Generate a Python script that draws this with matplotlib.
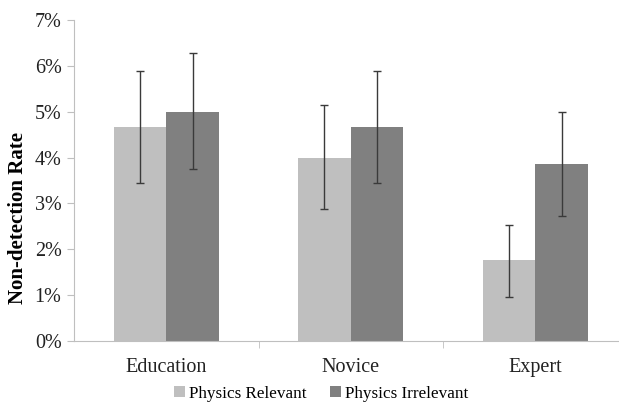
import matplotlib.pyplot as plt
import numpy as np
from matplotlib.ticker import PercentFormatter

groups = ['Education', 'Novice', 'Expert']
relevant = [4.67, 4.0, 1.76]
irrelevant = [5.0, 4.67, 3.85]
# error bar ends (upper, lower)
rel_hi = [5.89, 5.14, 2.53]
rel_lo = [3.45, 2.88, 0.97]
irr_hi = [6.27, 5.89, 5.0]
irr_lo = [3.74, 3.45, 2.73]

plt.rcParams['font.family'] = ['Liberation Serif', 'DejaVu Serif']

fig = plt.figure(figsize=(6.19, 4.07), dpi=100)
ax = fig.add_axes([74/619, 66/407, 553.5/619, 321/407])

x = np.arange(len(groups))
w = 0.285
rel_err = [np.subtract(relevant, rel_lo), np.subtract(rel_hi, relevant)]
irr_err = [np.subtract(irrelevant, irr_lo), np.subtract(irr_hi, irrelevant)]

ax.bar(x - w/2, relevant, w, color='#bfbfbf', label='Physics Relevant')
ax.bar(x + w/2, irrelevant, w, color='#808080', label='Physics Irrelevant')
ax.errorbar(x - w/2, relevant, yerr=rel_err, fmt='none', ecolor='#3a3a3a',
            elinewidth=1, capsize=3, capthick=1)
ax.errorbar(x + w/2, irrelevant, yerr=irr_err, fmt='none', ecolor='#3a3a3a',
            elinewidth=1, capsize=3, capthick=1)

ax.set_xlim(-0.5, 2.5)
ax.set_ylim(0, 7)
ax.set_yticks(range(8))
ax.yaxis.set_major_formatter(PercentFormatter(decimals=0))
ax.set_xticks(x)
ax.set_xticklabels(groups, fontsize=14.5, color='#222222')
ax.set_xticks([0.5, 1.5], minor=True)
ax.tick_params(axis='x', which='major', length=0, pad=12)
ax.tick_params(axis='x', which='minor', length=5, color='#bfbfbf', direction='out')
ax.tick_params(axis='y', labelsize=14.5, colors='#222222', length=5, pad=4)
ax.tick_params(axis='y', color='#bfbfbf')

for s in ['top', 'right']:
    ax.spines[s].set_visible(False)
for s in ['left', 'bottom']:
    ax.spines[s].set_color('#bfbfbf')

# y label sits lower than the axis centre in the original
fig.text(18.5/619, 1 - 218/407, 'Non-detection Rate', rotation=90, ha='center', va='center',
         fontsize=15, fontweight='bold')

fig.legend(loc='lower center', bbox_to_anchor=(0.519, -0.025), ncol=2, frameon=False,
           fontsize=12.3, handlelength=0.6, handleheight=0.6, handletextpad=0.25,
           columnspacing=1.4)

fig.savefig('out.png', dpi=100)
